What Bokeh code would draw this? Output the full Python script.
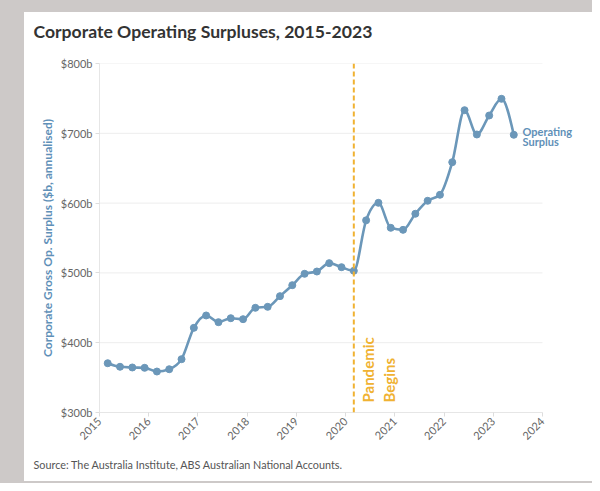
import numpy as np
from bokeh.plotting import figure
from bokeh.models import Label, Span, FixedTicker, PrintfTickFormatter, Spacer, Title
from bokeh.layouts import row, column
from bokeh.embed import file_html
from bokeh.resources import INLINE
from math import pi

# ---------------- data ----------------
quarters = [
    "2015-03", "2015-06", "2015-09", "2015-12",
    "2016-03", "2016-06", "2016-09", "2016-12",
    "2017-03", "2017-06", "2017-09", "2017-12",
    "2018-03", "2018-06", "2018-09", "2018-12",
    "2019-03", "2019-06", "2019-09", "2019-12",
    "2020-03", "2020-06", "2020-09", "2020-12",
    "2021-03", "2021-06", "2021-09", "2021-12",
    "2022-03", "2022-06", "2022-09", "2022-12",
    "2023-03", "2023-06",
]
surplus = [
    370.6, 365.5, 364.5, 364.0,
    358.7, 362.0, 376.4, 421.3,
    439.0, 429.4, 435.1, 433.7,
    450.0, 451.4, 466.7, 482.4,
    498.7, 502.0, 514.0, 508.2,
    503.0, 575.3, 600.4, 564.6,
    561.7, 584.7, 603.3, 611.9,
    658.6, 733.1, 698.3, 725.5,
    749.4, 697.9,
]
x_ticks = list(range(2015, 2025))
y_ticks = [300, 400, 500, 600, 700, 800]
pandemic_start = "2020-03"

title_text = "Corporate Operating Surpluses, 2015-2023"
y_label = "Corporate Gross Op. Surplus ($b, annualised)"
source_text = "Source: The Australia Institute, ABS Australian National Accounts."
series_name = ["Operating", "Surplus"]
event_name = ["Pandemic", "Begins"]

# ---------------- styles ----------------
FONT = "Lato"
BLUE = "#6b97b9"
LABEL_BLUE = "#5f90b8"
ORANGE = "#f0b232"
GREY_BG = "#cdc9c8"


def frac(q):
    y, m = q.split("-")
    return int(y) + (int(m) - 1) / 12.0


xs = np.array([frac(q) for q in quarters])
ys = np.array(surplus, dtype=float)


# monotone-x cubic tangents (as d3.curveMonotoneX)
def monotone_tangents(x, y):
    n = len(x)
    t = np.zeros(n)
    for i in range(1, n - 1):
        h0 = x[i] - x[i - 1]
        h1 = x[i + 1] - x[i]
        s0 = (y[i] - y[i - 1]) / h0
        s1 = (y[i + 1] - y[i]) / h1
        pp = (s0 * h1 + s1 * h0) / (h0 + h1)
        t[i] = (np.sign(s0) + np.sign(s1)) * min(abs(s0), abs(s1), 0.5 * abs(pp))
    h = x[1] - x[0]
    t[0] = (3 * (y[1] - y[0]) / h - t[1]) / 2
    h = x[-1] - x[-2]
    t[-1] = (3 * (y[-1] - y[-2]) / h - t[-2]) / 2
    return t


tg = monotone_tangents(xs, ys)
dx = (xs[1:] - xs[:-1]) / 3.0
x0 = xs[:-1]
y0 = ys[:-1]
x1 = xs[1:]
y1 = ys[1:]
cx0 = x0 + dx
cy0 = y0 + dx * tg[:-1]
cx1 = x1 - dx
cy1 = y1 - dx * tg[1:]

# ---------------- layout ----------------
W, H = 592, 483
PAD_L, PAD_T = 24, 12
CW, CH = W - PAD_L, 469
B_LEFT, B_TOP, B_BOTTOM, B_RIGHT = 75, 51, 69, 10
AXIS_W = 443  # pixel width of 2015..2024
frame_w = CW - B_LEFT - B_RIGHT
x_end = x_ticks[0] + (frame_w / AXIS_W) * (x_ticks[-1] - x_ticks[0])

p = figure(
    title=None,
    width=CW, height=CH,
    x_range=(x_ticks[0], x_end), y_range=(y_ticks[0], y_ticks[-1]),
    output_backend="svg", toolbar_location=None,
    min_border_left=B_LEFT, min_border_right=B_RIGHT,
    min_border_top=B_TOP, min_border_bottom=B_BOTTOM,
    border_fill_color="white", background_fill_color="white",
    outline_line_color=None,
)

# gap between title and plot area (nearest to frame), then the title
p.add_layout(Title(text=" ", text_font_size="2px", standoff=18,
                   text_color="white"), "above")
p.add_layout(Title(text=title_text, align="left", offset=-66,
                   text_font=FONT, text_font_size="17.6px", text_font_style="bold",
                   text_color="#333333", standoff=0), "above")
p.add_layout(Title(text=source_text, align="left", offset=-66,
                   text_font=FONT, text_font_size="10.8px", text_font_style="normal",
                   text_color="#555555", standoff=18), "below")

# axes
p.xaxis.ticker = FixedTicker(ticks=x_ticks)
p.xaxis.major_label_overrides = {t: str(t) for t in x_ticks}
p.xaxis.major_label_orientation = pi / 4
p.xaxis.bounds = (x_ticks[0], x_ticks[-1])
p.yaxis.ticker = FixedTicker(ticks=y_ticks)
p.yaxis.formatter = PrintfTickFormatter(format="$%db")
for ax in (p.xaxis, p.yaxis):
    ax.axis_line_color = "#e6e6e6"
    ax.major_tick_line_color = "#dddddd"
    ax.major_tick_out = 4
    ax.major_tick_in = 0
    ax.minor_tick_line_color = None
    ax.major_label_text_font = FONT
    ax.major_label_text_font_size = "11px"
    ax.major_label_text_color = "#666666"
    ax.major_label_standoff = 3
p.yaxis.axis_label = y_label
p.yaxis.axis_label_text_font = FONT
p.yaxis.axis_label_text_font_style = "bold"
p.yaxis.axis_label_text_font_size = "12px"
p.yaxis.axis_label_text_color = LABEL_BLUE
p.yaxis.axis_label_standoff = 3

p.xgrid.grid_line_color = None
p.ygrid.grid_line_color = None
# horizontal grid lines limited to the 2015..2024 axis span
p.segment(x0=[x_ticks[0]] * len(y_ticks), x1=[x_ticks[-1]] * len(y_ticks),
          y0=y_ticks, y1=y_ticks, line_color="#ededed", line_width=1,
          level="underlay")

# pandemic marker
p.add_layout(Span(location=frac(pandemic_start), dimension="height",
                  line_color=ORANGE, line_width=2, line_dash="5 3"))

# series
p.bezier(x0=x0, y0=y0, x1=x1, y1=y1, cx0=cx0, cy0=cy0, cx1=cx1, cy1=cy1,
         line_color=BLUE, line_width=2.6, line_cap="round")
p.scatter(xs, ys, size=7, color=BLUE)

# in-frame annotations (screen units relative to frame)
for i, txt in enumerate(event_name):
    p.add_layout(Label(x=268 + 21 * i, y=10, x_units="screen", y_units="screen",
                       text=txt, angle=pi / 2, text_font=FONT,
                       text_font_size="15px", text_font_style="bold",
                       text_color=ORANGE, text_align="left",
                       text_baseline="alphabetic"))
for i, txt in enumerate(series_name):
    p.add_layout(Label(x=423, y=281 - 10 * i, x_units="screen", y_units="screen",
                       text=txt, text_font=FONT, text_font_size="11px",
                       text_font_style="bold", text_color=LABEL_BLUE,
                       text_baseline="alphabetic"))

left_pad = Spacer(width=PAD_L, height=H, styles={"background-color": GREY_BG})
top_pad = Spacer(width=CW, height=PAD_T, styles={"background-color": GREY_BG})
bot_pad = Spacer(width=CW, height=H - CH - PAD_T, styles={"background-color": GREY_BG})
layout = row(left_pad, column(top_pad, p, bot_pad))

open("out.html", "w").write(file_html(layout, INLINE))
